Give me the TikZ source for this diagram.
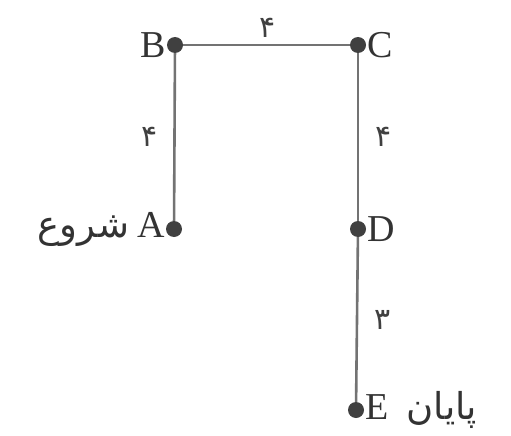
\documentclass[tikz,border=0pt]{standalone}
\usepackage{fontspec}
\setmainfont{Liberation Serif}
\newfontfamily\arabicfont[Script=Arabic]{DejaVu Sans}
\TeXXeTstate=1
\begin{document}
\begin{tikzpicture}[x=1pt,y=-1pt,
  vert/.style={circle,fill=black!75,inner sep=0pt,minimum size=16pt},
  edge/.style={draw=black!55,line width=2.6pt},
  lbl/.style={font=\fontsize{38}{42}\selectfont,text=black!80,inner sep=1pt},
  wt/.style={font=\arabicfont\fontsize{30}{34}\selectfont,text=black!75}]
\useasboundingbox (0,0) rectangle (511,436);
\node[vert] (B) at (175,45) {};
\node[vert] (C) at (358,45) {};
\node[vert] (A) at (174,229) {};
\node[vert] (D) at (358,229) {};
\node[vert] (E) at (356,410) {};
\draw[edge] (B) -- (C);
\draw[edge] (B) -- (A);
\draw[edge] (C) -- (D);
\draw[edge] (D) -- (E);
\node[lbl,anchor=east] (lB) at (B.west) {B};
\node[lbl,anchor=west] (lC) at (C.east) {C};
\node[lbl,anchor=west] (lD) at (D.east) {D};
\node[lbl,anchor=east] (lA) at (A.west) {\arabicfont\fontsize{37}{40}\selectfont\beginR شروع\endR\hspace{8pt}\rmfamily\fontsize{38}{42}\selectfont A};
\node[lbl,anchor=west] (lE) at (E.east) {E\hspace{18pt}\arabicfont\fontsize{37}{40}\selectfont\beginR پایان\endR};
\node[wt] (wBC) at (268,28) {\beginR ۴\endR};
\node[wt] (wBA) at (150,137) {\beginR ۴\endR};
\node[wt] (wCD) at (384,137) {\beginR ۴\endR};
\node[wt] (wDE) at (383,320) {\beginR ۳\endR};
\end{tikzpicture}
\end{document}
